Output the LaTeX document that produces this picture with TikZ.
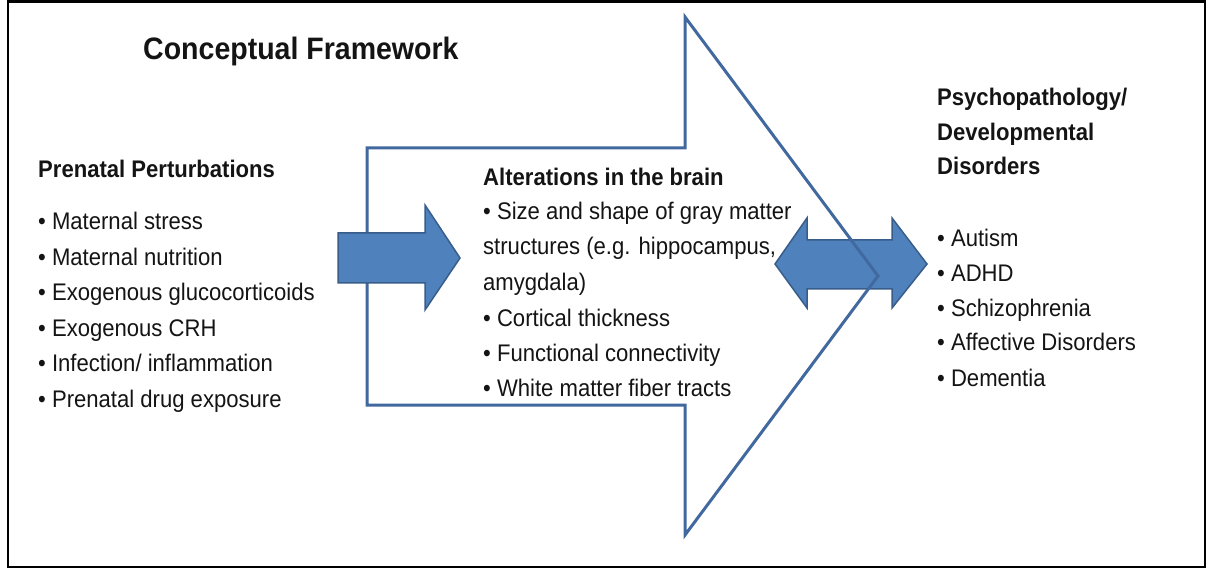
\documentclass[tikz,border=0pt]{standalone}
\usepackage{fontspec}
\setmainfont{Liberation Sans}[FakeStretch=0.92]
\definecolor{arrowfill}{RGB}{79,129,189}
\definecolor{arrowedge}{RGB}{56,93,138}
\definecolor{outlineblue}{RGB}{65,105,160}
\definecolor{txt}{RGB}{20,20,20}
\tikzset{
  txtline/.style={anchor=base west, inner sep=0pt, text=txt, font=\fontsize{24}{28}\selectfont},
  headline/.style={txtline, font=\fontsize{24}{28}\selectfont\bfseries},
  titleline/.style={txtline, font=\fontsize{31}{36}\selectfont\bfseries},
  bluearrow/.style={fill=arrowfill, draw=arrowedge, line width=1.5pt, line join=miter},
  bigoutline/.style={draw=outlineblue, line width=3pt, line join=miter, fill=none},
  framebox/.style={draw=black, line width=2.5pt}
}
\begin{document}
\begin{tikzpicture}[x=1pt,y=-1pt]
\useasboundingbox (0,0) rectangle (1208,569);
\fill[white] (0,0) rectangle (1208,569);
\draw[framebox] (8,1.5) rectangle (1205,567);

% double-headed arrow (behind the outline arrow)
\draw[bluearrow] (775,264) -- (807,218) -- (807,240) -- (892,240) -- (892,218)
  -- (927,264) -- (892,308) -- (892,289) -- (807,289) -- (807,308) -- cycle;

% large outline arrow
\draw[bigoutline] (367,148) -- (685,148) -- (685,17) -- (878,276) -- (685,535)
  -- (685,405) -- (367,405) -- cycle;

% left solid arrow
\draw[bluearrow] (338,233) -- (425,233) -- (425,205) -- (460,258) -- (425,310)
  -- (425,283) -- (338,283) -- cycle;

% title
\node[titleline] (title) at (143,60) {Conceptual Framework};

% left column
\node[headline] (prenatal) at (38,178) {Prenatal Perturbations};
\node[txtline] (p1) at (38,230) {• Maternal stress};
\node[txtline] (p2) at (38,266) {• Maternal nutrition};
\node[txtline] (p3) at (38,301) {• Exogenous glucocorticoids};
\node[txtline] (p4) at (38,337) {• Exogenous CRH};
\node[txtline] (p5) at (38,372) {• Infection/ inflammation};
\node[txtline] (p6) at (38,407) {• Prenatal drug exposure};

% centre column
\node[headline] (brain) at (483,186) {Alterations in the brain};
\node[txtline] (b1) at (483,220) {• Size and shape of gray matter};
\node[txtline] (b2) at (483,255) {structures (e.g. hippocampus,};
\node[txtline] (b3) at (483,291) {amygdala)};
\node[txtline] (b4) at (483,327) {• Cortical thickness};
\node[txtline] (b5) at (483,361.5) {• Functional connectivity};
\node[txtline] (b6) at (483,396.5) {• White matter fiber tracts};

% right column
\node[headline] (psy1) at (937,106) {Psychopathology/};
\node[headline] (psy2) at (937,140.5) {Developmental};
\node[headline] (psy3) at (937,175) {Disorders};
\node[txtline] (d1) at (937,246.5) {• Autism};
\node[txtline] (d2) at (937,282) {• ADHD};
\node[txtline] (d3) at (937,317) {• Schizophrenia};
\node[txtline] (d4) at (937,351) {• Affective Disorders};
\node[txtline] (d5) at (937,387) {• Dementia};
\end{tikzpicture}
\end{document}
